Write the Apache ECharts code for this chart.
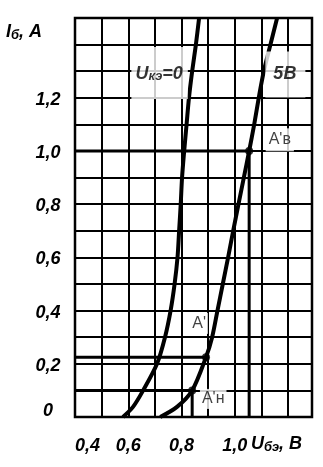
<!DOCTYPE html>
<html>
<head>
<meta charset="utf-8">
<script src="https://cdn.jsdelivr.net/npm/echarts@6/dist/echarts.min.js"></script>
<style>
html,body{margin:0;padding:0;background:#fff;}
#c{width:323px;height:467px;}
</style>
</head>
<body>
<div id="c"></div>
<script>
// ---- data ----
const xTickValues = [0.4, 0.6, 0.8, 1.0];
const xTickLabels = ['0,4', '0,6', '0,8', '1,0'];
const yTickValues = [0, 0.2, 0.4, 0.6, 0.8, 1.0, 1.2];
const yTickLabels = ['0', '0,2', '0,4', '0,6', '0,8', '1,0', '1,2'];

// U_кэ = 0 curve: [U_бэ (V), I_б (A)]
const curveUce0 = [
  [0.580, 0], [0.618, 0.038], [0.656, 0.1], [0.708, 0.2], [0.738, 0.3],
  [0.759, 0.4], [0.774, 0.5], [0.785, 0.6], [0.791, 0.7], [0.797, 0.8],
  [0.802, 0.9], [0.810, 1.0], [0.819, 1.1], [0.828, 1.2], [0.840, 1.3],
  [0.854, 1.4], [0.866, 1.5]
];
// U_кэ = 5 В curve
const curveUce5 = [
  [0.720, 0], [0.783, 0.038], [0.840, 0.1], [0.892, 0.225], [0.915, 0.3],
  [0.935, 0.4], [0.955, 0.5], [0.975, 0.6], [0.994, 0.7], [1.014, 0.8],
  [1.034, 0.9], [1.054, 1.0], [1.073, 1.1], [1.090, 1.2], [1.109, 1.3],
  [1.134, 1.4], [1.159, 1.5]
];
// operating points A'в, A', A'н
const pointNames = ["A'в", "A'", "A'н"];
const pointU = [1.054, 0.892, 0.840];
const pointI = [1.0, 0.225, 0.1];

const xMin = 0.4, xMax = 1.29, yMin = 0, yMax = 1.5, step = 0.1;

// ---- chart ----
const ITF = "'Liberation Sans', Arial, sans-serif";
const italic = { fontFamily: ITF, fontStyle: 'italic', fontWeight: 'bold', color: '#000' };
const sans = { fontFamily: 'Liberation Sans', color: '#111', fontSize: 16 };
const richU = { fontSize: 18, fontFamily: ITF, fontStyle: 'italic', fontWeight: 'bold', color: '#000' };
const richS = { fontSize: 13, fontFamily: ITF, fontStyle: 'italic', fontWeight: 'bold', color: '#000', padding: [6, 0, 0, 0] };

function fmt(values, labels) {
  return function (v) {
    for (let i = 0; i < values.length; i++) if (Math.abs(values[i] - v) < 1e-6) return labels[i];
    return '';
  };
}
const yFmt = fmt(yTickValues, yTickLabels);

// guide lines from the axes to the operating points
const guides = [];
for (let i = 0; i < pointU.length; i++) {
  guides.push({ name: 'h' + i, data: [[xMin, pointI[i]], [pointU[i], pointI[i]]] });
}
guides.push({ name: 'v0', data: [[pointU[0], 0], [pointU[0], pointI[0]]] });
guides.push({ name: 'v2', data: [[pointU[2], 0], [pointU[2], pointI[2]]] });

const guideSeries = guides.map(g => ({
  type: 'line', name: g.name, data: g.data, symbol: 'none', silent: true,
  lineStyle: { color: '#000', width: 3 }, z: 3
}));

const annotations = [
  { value: [0.7177, 1.293], text: '{u|U}{s|кэ}{u|=0}', style: italic, pad: [17, 5, 16, 4], rich: true },
  { value: [1.190, 1.288], text: '{u|5В}', style: italic, pad: [14, 9, 14, 8], rich: true },
  { value: [1.169, 1.042], text: pointNames[0], style: sans, pad: [4, 3, 3, 3] },
  { value: [0.866, 0.352], text: pointNames[1], style: sans, pad: [3, 2, 2, 2] },
  { value: [0.919, 0.068], text: pointNames[2], style: sans, pad: [2, 2, 2, 2] }
];

const chart = echarts.init(document.getElementById('c'), null, { renderer: 'canvas' });
chart.setOption({
  backgroundColor: '#fff',
  animation: false,
  grid: { left: 75, right: 11, top: 18, bottom: 50, show: true, borderColor: '#000', borderWidth: 2.5, backgroundColor: 'transparent' },
  xAxis: {
    type: 'value', min: xMin, max: xMax, interval: step,
    axisLine: { show: false }, axisTick: { show: false },
    splitLine: { show: true, lineStyle: { color: '#000', width: 2 } },
    axisLabel: {
      formatter: fmt(xTickValues, xTickLabels), margin: 20, fontSize: 18,
      fontFamily: ITF, fontStyle: 'italic', fontWeight: 'bold', color: '#000',
      alignMinLabel: 'left', showMaxLabel: false
    }
  },
  yAxis: {
    type: 'value', min: yMin, max: yMax, interval: step,
    axisLine: { show: false }, axisTick: { show: false },
    splitLine: { show: true, lineStyle: { color: '#000', width: 2 } },
    axisLabel: {
      formatter: function (v) { const t = yFmt(v); return t === '' ? '' : (Math.abs(v) < 1e-6 ? '{z|' + t + '}' : '{n|' + t + '}'); },
      margin: 27, align: 'center', fontSize: 18,
      fontFamily: ITF, fontStyle: 'italic', fontWeight: 'bold', color: '#000',
      showMaxLabel: false,
      rich: {
        n: { fontSize: 18, fontFamily: ITF, fontStyle: 'italic', fontWeight: 'bold', color: '#000', padding: [4, 0, 0, 0] },
        z: { fontSize: 18, fontFamily: ITF, fontStyle: 'italic', fontWeight: 'bold', color: '#000', padding: [0, 0, 12, 0] }
      }
    }
  },
  graphic: [
    { type: 'text', left: 6, top: 23, style: {
      text: '{u|I}{s|б}{u|, A}', rich: { u: Object.assign({}, richU, { fill: '#000' }), s: Object.assign({}, richS, { fill: '#000' }) } } },
    { type: 'text', left: 251, top: 435, style: {
      text: '{u|U}{s|бэ}{u|, B}', rich: { u: Object.assign({}, richU, { fill: '#000' }), s: Object.assign({}, richS, { fill: '#000' }) } } }
  ],
  series: [
    {
      type: 'line', name: 'Uкэ=0', data: curveUce0, smooth: 0.3, symbol: 'none',
      lineStyle: { color: '#000', width: 4 }, z: 4
    },
    {
      type: 'line', name: 'Uкэ=5В', data: curveUce5, smooth: 0.3, symbol: 'none',
      lineStyle: { color: '#000', width: 4 }, z: 4
    },
    ...guideSeries,
    {
      type: 'scatter', name: 'points', z: 6,
      data: pointU.map((u, i) => [u, pointI[i]]),
      symbol: 'circle', symbolSize: 8, itemStyle: { color: '#000' }
    },
    {
      type: 'scatter', name: 'labels', z: 5, symbolSize: 0, silent: true,
      data: annotations.map(a => ({
        value: a.value,
        label: {
          show: true, position: 'inside', formatter: a.text,
          backgroundColor: '#fff', padding: a.pad,
          fontFamily: a.style.fontFamily, fontSize: a.style.fontSize || 18,
          fontStyle: a.style.fontStyle || 'normal', fontWeight: a.style.fontWeight || 'normal',
          color: a.style.color,
          rich: a.rich ? { u: richU, s: richS } : undefined
        }
      }))
    }
  ]
});
</script>
</body>
</html>
